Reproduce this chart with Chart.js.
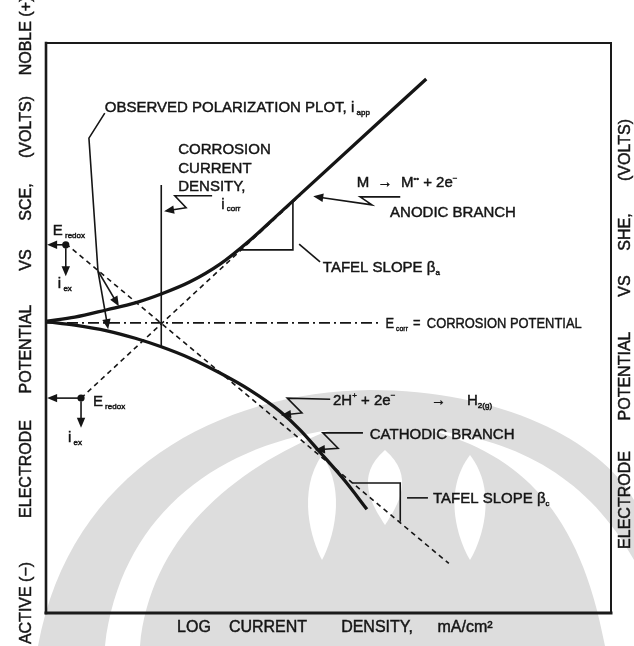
<!DOCTYPE html>
<html>
<head>
<meta charset="utf-8">
<script src="https://cdn.jsdelivr.net/npm/chart.js@4.4.1/dist/chart.umd.min.js"></script>
<style>
  html, body { margin: 0; padding: 0; background: #fff; }
  canvas { display: block; }
</style>
</head>
<body>
<canvas id="c" width="634" height="646"></canvas>
<script>
// Schematic polarization diagram.
// x = log current density (decades, arbitrary origin), y = electrode potential (arbitrary units)

// Observed polarization curve (i_app), anodic and cathodic branches
const anodicX   = [0.02, 0.51, 1.08, 1.58, 2.05, 2.55, 3.08, 3.61, 4.14, 6.73];
const anodicY   = [5.12, 5.19, 5.32, 5.44, 5.60, 5.81, 6.12, 6.54, 7.02, 9.37];
const cathodicX = [0.02, 0.51, 1.08, 1.58, 2.04, 2.55, 3.08, 3.61, 4.14, 4.50, 4.85, 5.29, 5.68];
const cathodicY = [5.11, 5.05, 4.95, 4.82, 4.67, 4.47, 4.21, 3.91, 3.54, 3.21, 2.82, 2.32, 1.82];

// Extrapolated Tafel lines
const anodicTafelX   = [0.62, 4.50];
const anodicTafelY   = [3.77, 7.33];
const cathodicTafelX = [0.35, 7.13];
const cathodicTafelY = [6.48, 0.87];

// Corrosion potential / current
const eCorr = 5.09;
const eCorrLineX = [0.00, 5.90];
const iCorr = 2.04;
const iCorrLineY = [7.51, 4.67];

// Redox equilibrium points (E_redox, i_ex)
const redoxX = [0.35, 0.62];
const redoxY = [6.46, 3.77];

// Tafel slope construction triangles
const betaAX = [3.43, 4.37, 4.37];
const betaAY = [6.37, 6.37, 7.21];
const betaCX = [5.43, 6.27, 6.27];
const betaCY = [2.28, 2.28, 1.60];

// Leader lines (last point carries an arrowhead when arrow = true)
const leaders = [
  { x: [1.04, 0.76, 0.92],       y: [8.77, 8.33, 6.00],       arrow: false },
  { x: [0.92, 1.10],             y: [6.00, 4.98],             arrow: true  },
  { x: [0.92, 1.29],             y: [6.00, 5.38],             arrow: true  },
  { x: [2.94, 2.28, 2.48, 2.09], y: [7.32, 7.32, 7.11, 7.05], arrow: true  },
  { x: [6.27, 5.56, 5.77, 4.73], y: [7.30, 7.30, 7.16, 7.31], arrow: true  },
  { x: [5.03, 4.27, 4.53, 4.16], y: [3.75, 3.77, 3.51, 3.47], arrow: true  },
  { x: [5.61, 4.90, 5.17, 4.76], y: [3.16, 3.16, 2.89, 2.86], arrow: true  },
  { x: [4.48, 4.85],             y: [6.47, 6.16],             arrow: false },
  { x: [6.39, 6.76],             y: [2.02, 2.02],             arrow: false },
  { x: [0.35, 0.02],             y: [6.46, 6.46],             arrow: true  },
  { x: [0.35, 0.35],             y: [6.40, 5.91],             arrow: true  },
  { x: [0.62, 0.02],             y: [3.77, 3.77],             arrow: true  },
  { x: [0.62, 0.62],             y: [3.71, 3.25],             arrow: true  }
];

// Text notes: anchor = left edge / middle of capitals, in data units.
// A part is [text, kind, optional pixel offset from the anchor].
const notes = [
  { x: 1.04, y: 8.88, parts: [['OBSERVED POLARIZATION PLOT, i'], [' app', 'sub']] },
  { x: 2.34, y: 8.14, parts: [['CORROSION']] },
  { x: 2.34, y: 7.82, parts: [['CURRENT']] },
  { x: 2.34, y: 7.49, parts: [['DENSITY,']] },
  { x: 3.10, y: 7.19, parts: [['i'], [' corr', 'sub']] },
  { x: 5.50, y: 7.56, parts: [['M  \u2192  M'], ['\u2022\u2022', 'sup'], [' + 2e'], ['\u2212', 'sup']] },
  { x: 6.09, y: 7.04, parts: [['ANODIC BRANCH']] },
  { x: 4.90, y: 6.07, parts: [['TAFEL SLOPE \u03B2'], ['a', 'sub']] },
  { x: 6.01, y: 5.09, sx: 0.86, parts: [['E'], [' corr', 'sub'], ['=', 'n', 32], ['CORROSION POTENTIAL', 'n', 48]] },
  { x: 5.08, y: 3.74, parts: [['2H'], ['+', 'sup'], [' + 2e'], ['\u2212', 'sup'], ['\u2192', 'n', 98], ['H', 'n', 134], ['2(g)', 'sub']] },
  { x: 5.73, y: 3.14, parts: [['CATHODIC BRANCH']] },
  { x: 6.85, y: 2.02, parts: [['TAFEL SLOPE \u03B2'], ['c', 'sub']] },
  { x: 0.12, y: 6.72, parts: [['E'], [' redox', 'sub']] },
  { x: 0.21, y: 5.79, parts: [['i'], [' ex', 'sub']] },
  { x: 0.83, y: 3.72, parts: [['E'], [' redox', 'sub']] },
  { x: 0.39, y: 3.09, parts: [['i'], [' ex', 'sub']] }
];

// Axis titles
const leftTitleWords  = ['ACTIVE (\u2212)', 'ELECTRODE', 'POTENTIAL', 'VS', 'SCE,', '(VOLTS)', 'NOBLE (+)'];
const leftTitleY      = [603, 469, 349, 260, 202, 127, 36];
const rightTitleWords = ['ELECTRODE', 'POTENTIAL', 'VS', 'SHE,', '(VOLTS)'];
const rightTitleY     = [500, 376, 286, 232, 150];
const bottomTitleWords = ['LOG', 'CURRENT', 'DENSITY,', 'mA/cm\u00B2'];
const bottomTitleX     = [194, 268, 377, 465];

const ink = '#151515';
const FONT = '"Liberation Sans", Arial, Helvetica, sans-serif';
const pts = (xs, ys) => xs.map((v, i) => ({ x: v, y: ys[i] }));

function arrowHead(ctx, x0, y0, x1, y1) {
  const a = Math.atan2(y1 - y0, x1 - x0), len = 10, w = 4.2;
  const c = Math.cos(a), s = Math.sin(a);
  ctx.beginPath();
  ctx.moveTo(x1, y1);
  ctx.lineTo(x1 - len * c + w * s, y1 - len * s - w * c);
  ctx.lineTo(x1 - len * c - w * s, y1 - len * s + w * c);
  ctx.closePath();
  ctx.fill();
}

// Draw text filled and lightly stroked so it carries the weight of printed type
function ink2(ctx, t, x, y) {
  ctx.fillText(t, x, y);
  ctx.strokeText(t, x, y);
}

function drawRich(ctx, x, y, parts, sx) {
  ctx.save();
  ctx.translate(x, y);
  ctx.scale(sx || 1, 1);
  ctx.textAlign = 'left';
  ctx.textBaseline = 'alphabetic';
  ctx.lineWidth = 0.45;
  let cx = 0;
  for (const [t, kind, at] of parts) {
    let dy;
    if (kind === 'sub') { ctx.font = '8px ' + FONT; dy = 8; }
    else if (kind === 'sup') { ctx.font = '8px ' + FONT; dy = -1.5; }
    else { ctx.font = '15px ' + FONT; dy = 5.4; }
    if (at !== undefined) cx = at;
    ink2(ctx, t, cx, dy);
    cx += ctx.measureText(t).width;
  }
  ctx.restore();
}

// Faint emblem printed behind the lower half of the page
function emblem(ctx) {
  ctx.save();
  ctx.fillStyle = '#dddddd';
  // outer dome
  ctx.beginPath();
  ctx.moveTo(38, 646);
  ctx.bezierCurveTo(70, 470, 220, 392, 370, 390);
  ctx.bezierCurveTo(500, 390, 600, 440, 634, 500);
  ctx.lineTo(634, 646);
  ctx.closePath();
  ctx.fill();
  ctx.fillStyle = '#ffffff';
  // left white swoosh
  ctx.beginPath();
  ctx.moveTo(105, 646);
  ctx.bezierCurveTo(120, 520, 210, 448, 330, 430);
  ctx.bezierCurveTo(230, 470, 150, 540, 140, 646);
  ctx.closePath();
  ctx.fill();
  // right white swoosh
  ctx.beginPath();
  ctx.moveTo(634, 560);
  ctx.bezierCurveTo(590, 480, 520, 440, 430, 430);
  ctx.bezierCurveTo(520, 455, 580, 510, 605, 646);
  ctx.lineTo(634, 646);
  ctx.closePath();
  ctx.fill();
  // central petals
  const petal = (cx, top, bottom, half) => {
    ctx.beginPath();
    ctx.moveTo(cx, top);
    ctx.bezierCurveTo(cx + half * 1.4, top + (bottom - top) * 0.35, cx + half * 0.6, bottom - 20, cx, bottom);
    ctx.bezierCurveTo(cx - half * 0.6, bottom - 20, cx - half * 1.4, top + (bottom - top) * 0.35, cx, top);
    ctx.fill();
  };
  petal(322, 455, 560, 18);
  petal(385, 450, 525, 22);
  petal(470, 455, 560, 20);
  ctx.restore();
}

const overlay = {
  id: 'overlay',
  beforeDatasetsDraw(chart) {
    const { ctx, chartArea: a } = chart;
    emblem(ctx);
    ctx.save();
    ctx.strokeStyle = '#1a1a1a';
    ctx.lineCap = 'square';
    const edge = (w, x0, y0, x1, y1) => { ctx.lineWidth = w; ctx.beginPath(); ctx.moveTo(x0, y0); ctx.lineTo(x1, y1); ctx.stroke(); };
    edge(2.0, a.left, a.top, a.right, a.top);
    edge(2.0, a.right, a.top, a.right, a.bottom);
    edge(3.0, a.left, a.bottom, a.right, a.bottom);
    edge(2.6, a.left, a.top, a.left, a.bottom);
    ctx.restore();
  },
  afterDatasetsDraw(chart) {
    const { ctx } = chart;
    const X = v => chart.scales.x.getPixelForValue(v);
    const Y = v => chart.scales.y.getPixelForValue(v);
    ctx.save();
    ctx.strokeStyle = ink;
    ctx.fillStyle = ink;
    ctx.lineWidth = 1.6;
    ctx.lineJoin = 'miter';
    for (const l of leaders) {
      const px = l.x.map(X), py = l.y.map(Y);
      const n = px.length;
      let ex = px[n - 1], ey = py[n - 1];
      if (l.arrow) {
        const a = Math.atan2(ey - py[n - 2], ex - px[n - 2]);
        ex -= 6 * Math.cos(a); ey -= 6 * Math.sin(a);
      }
      ctx.beginPath();
      ctx.moveTo(px[0], py[0]);
      for (let i = 1; i < n - 1; i++) ctx.lineTo(px[i], py[i]);
      ctx.lineTo(ex, ey);
      ctx.stroke();
      if (l.arrow) arrowHead(ctx, px[n - 2], py[n - 2], px[n - 1], py[n - 1]);
    }
    for (const nt of notes) drawRich(ctx, X(nt.x), Y(nt.y), nt.parts, nt.sx);

    ctx.font = '16px ' + FONT;
    ctx.textAlign = 'center';
    ctx.textBaseline = 'middle';
    ctx.lineWidth = 0.45;
    const vword = (w, cx, cy) => { ctx.save(); ctx.translate(cx, cy); ctx.rotate(-Math.PI / 2); ink2(ctx, w, 0, 1); ctx.restore(); };
    leftTitleWords.forEach((w, i) => vword(w, 26, leftTitleY[i]));
    rightTitleWords.forEach((w, i) => vword(w, 625, rightTitleY[i]));
    bottomTitleWords.forEach((w, i) => ink2(ctx, w, bottomTitleX[i], 628));
    ctx.restore();
  }
};

const lineDs = (data, width, dash, extra) => Object.assign({
  data, showLine: true, borderColor: ink, borderWidth: width, borderDash: dash || [],
  pointRadius: 0, fill: false, clip: false, tension: 0
}, extra || {});

new Chart(document.getElementById('c'), {
  type: 'scatter',
  data: {
    datasets: [
      lineDs(pts(anodicTafelX, anodicTafelY), 1.6, [5, 4]),
      lineDs(pts(cathodicTafelX, cathodicTafelY), 1.6, [5, 4]),
      lineDs(pts(eCorrLineX, [eCorr, eCorr]), 1.6, [11, 4, 2, 4]),
      lineDs(pts([iCorr, iCorr], iCorrLineY), 1.6),
      lineDs(pts(betaAX, betaAY), 1.6),
      lineDs(pts(betaCX, betaCY), 1.6),
      lineDs(pts(anodicX, anodicY), 3.3, [], { cubicInterpolationMode: 'monotone' }),
      lineDs(pts(cathodicX, cathodicY), 3.3, [], { cubicInterpolationMode: 'monotone' }),
      { data: pts(redoxX, redoxY), showLine: false, pointRadius: 3.6, pointBackgroundColor: ink, pointBorderWidth: 0, clip: false }
    ]
  },
  options: {
    responsive: false,
    animation: false,
    devicePixelRatio: 1,
    layout: { padding: { left: 46, right: 23, top: 43, bottom: 33 } },
    scales: {
      x: { type: 'linear', min: 0, max: 10, display: false },
      y: { type: 'linear', min: 0, max: 10, display: false }
    },
    plugins: { legend: { display: false }, tooltip: { enabled: false } },
    events: []
  },
  plugins: [overlay]
});
</script>
</body>
</html>
